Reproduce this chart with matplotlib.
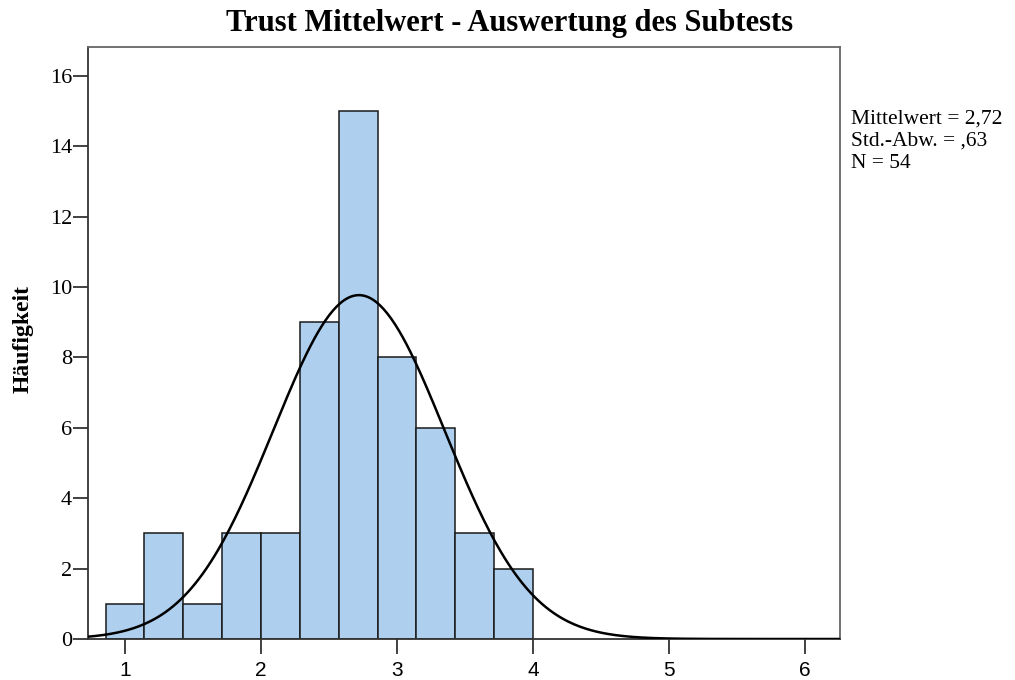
import numpy as np
import matplotlib.pyplot as plt

# histogram data (read from the SPSS output)
bin_left = 6.0 / 7.0
bin_width = 2.0 / 7.0
counts = [1, 3, 1, 3, 3, 9, 15, 8, 6, 3, 2]
mean_val = 2.72
sd_val = 0.63
n_val = 54
x_ticks = [1, 2, 3, 4, 5, 6]
y_ticks = [0, 2, 4, 6, 8, 10, 12, 14, 16]

edges = bin_left + bin_width * np.arange(len(counts))

fig = plt.figure(figsize=(10.15, 6.8), dpi=100)
ax = fig.add_axes([88/1015, 1-639/680, (840-88)/1015, (639-47)/680])

ax.bar(edges, counts, width=bin_width, align='edge', color='#aecfee',
       edgecolor='#1a1a1a', linewidth=1.1, zorder=2)

# normal curve scaled to counts
xs = np.linspace(0.728, 6.257, 400)
ys = n_val * bin_width / (sd_val * np.sqrt(2*np.pi)) * np.exp(-0.5*((xs-mean_val)/sd_val)**2)
ax.plot(xs, ys, color='black', linewidth=1.8, zorder=3)

ax.set_xlim(0.728, 6.257)
ax.set_ylim(0, 16.82)
ax.set_xticks(x_ticks)
ax.set_yticks(y_ticks)
ax.set_xticklabels([str(t) for t in x_ticks], fontfamily='Liberation Sans', fontsize=15)
ax.set_yticklabels([str(t) for t in y_ticks], fontfamily='Liberation Serif', fontsize=16)
ax.tick_params(direction='out', length=11, width=1.3, color='#333333')
ax.tick_params(axis='x', pad=5)
ax.tick_params(axis='y', pad=0.5)
for s in ax.spines.values():
    s.set_color('#666666')
    s.set_linewidth(1.3)
ax.spines['left'].set_color('#333333')
ax.spines['bottom'].set_color('#333333')

fig.text(0.502, 0.965, 'Trust Mittelwert - Auswertung des Subtests', ha='center', va='center',
         fontfamily='Liberation Serif', fontweight='bold', fontsize=22)
fig.text(0.023, 0.502, 'Häufigkeit', rotation=90, ha='center', va='center',
         fontfamily='Liberation Serif', fontweight='bold', fontsize=17)

stats = 'Mittelwert = 2,72\nStd.-Abw. = ,63\nN = 54'
fig.text(851/1015, 1-110/680, stats, ha='left', va='top', linespacing=1.2,
         fontfamily='Liberation Serif', fontsize=15.5)

fig.savefig('out.png', dpi=100)
